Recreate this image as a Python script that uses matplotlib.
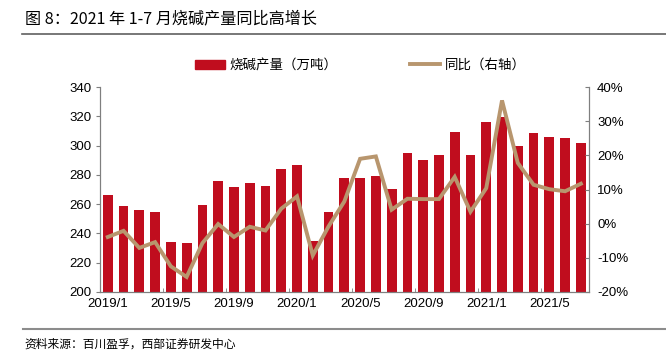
import matplotlib
matplotlib.use("Agg")
import matplotlib.pyplot as plt
from matplotlib.lines import Line2D
from matplotlib.patches import Patch
from matplotlib.ticker import FuncFormatter

plt.rcParams["font.family"] = ["Liberation Sans", "Noto Sans CJK SC", "DejaVu Sans"]

# 月份 2019/1 - 2021/7
months = [f"{y}/{m}" for y in (2019, 2020, 2021) for m in range(1, 13)][:31]
output = [266, 258.7, 256, 254.6, 233.9, 233.2, 259.6, 275.6, 271.5, 274.4, 272.6, 284,
          286.5, 235, 254.4, 277.6, 278, 279, 270.3, 295, 290.2, 293.3, 309, 293.6,
          315.9, 319.5, 299.5, 308.6, 305.9, 305.4, 301.5]
yoy = [-3.9, -2.1, -7.1, -5.4, -12.5, -15.6, -5.7, -0.1, -3.9, -0.9, -2.0, 4.4,
       8.0, -9.3, -0.8, 6.5, 19.0, 19.7, 4.1, 7.3, 7.2, 7.2, 13.7, 3.5,
       10.4, 36.1, 17.8, 11.4, 10.1, 9.5, 11.7]
label_every = 4

BAR_RED = "#C00D1E"
LINE_TAN = "#B8966E"

fig = plt.figure(figsize=(6.66, 3.6), dpi=100)
ax = fig.add_axes([0.150, 0.189, 0.734, 0.569])
ax2 = ax.twinx()

x = list(range(len(months)))
ax.bar(x, output, width=0.62, color=BAR_RED, zorder=2)
ax2.plot(x, yoy, color=LINE_TAN, lw=2.8, solid_joinstyle="miter", zorder=3)

ax.set_xlim(-0.5, len(months) - 0.5)
ax.set_ylim(200, 340)
ax.set_yticks(range(200, 341, 20))
ax2.set_ylim(-20, 40)
ax2.set_yticks(range(-20, 41, 10))
ax2.yaxis.set_major_formatter(FuncFormatter(lambda v, _: f"{v:.0f}%"))

# labels on every 4th month, tick marks on the category boundaries
ax.set_xticks(x[::label_every])
ax.set_xticklabels(months[::label_every])
ax.set_xticks([i - 0.5 for i in x[::label_every]], minor=True)
ax.tick_params(axis="x", which="major", length=0, labelsize=9.5, pad=4)
ax.tick_params(axis="x", which="minor", length=3, direction="in", color="#7f7f7f")
ax.tick_params(axis="y", length=3, labelsize=9.5, color="#7f7f7f", pad=3)
ax2.tick_params(axis="y", length=3, direction="in", labelsize=9.5, color="#7f7f7f", pad=6)

for a in (ax, ax2):
    a.spines["top"].set_visible(False)
    for s in ("left", "right", "bottom"):
        a.spines[s].set_color("#7f7f7f")
        a.spines[s].set_linewidth(0.8)

cjk = ["Noto Sans CJK SC", "DejaVu Sans"]
handles = [Patch(color=BAR_RED), Line2D([], [], color=LINE_TAN, lw=2.8)]
fig.legend(handles, ["烧碱产量（万吨）", "同比（右轴）"], loc="center",
           bbox_to_anchor=(0.541, 0.819), ncol=2, frameon=False, columnspacing=5.4,
           handlelength=2.2, handletextpad=0.35, prop={"family": cjk, "size": 9.7})

fig.text(0.037, 0.947, "图 8：2021 年 1-7 月烧碱产量同比高增长", family=cjk,
         fontsize=11.6, va="center", ha="left")
fig.add_artist(Line2D([0.033, 1.0], [0.905, 0.905], color="#606060", lw=1.2))
fig.add_artist(Line2D([0.035, 1.0], [0.086, 0.086], color="#8c8c8c", lw=1.5))
fig.text(0.037, 0.045, "资料来源：百川盈孚，西部证券研发中心", family=cjk,
         fontsize=8.5, va="center", ha="left")

fig.savefig("out.png", dpi=100)
